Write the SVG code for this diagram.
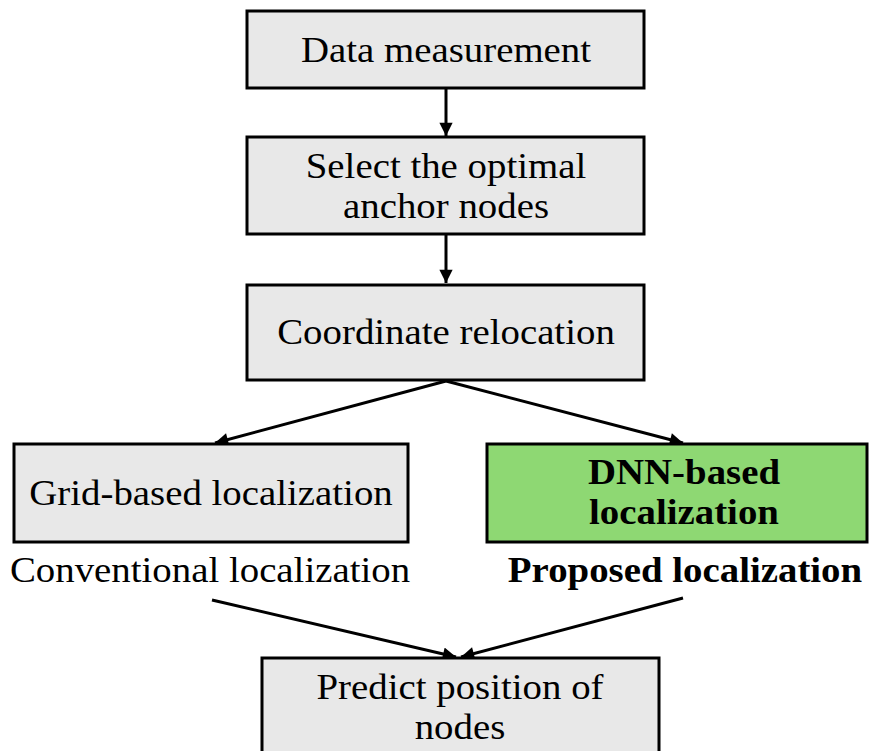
<svg xmlns="http://www.w3.org/2000/svg" width="870" height="751" viewBox="0 0 870 751">
<style>
.box{fill:#e8e8e8;stroke:#000;stroke-width:3}
.green{fill:#8ed873;stroke:#000;stroke-width:3}
.t{font-family:"Liberation Serif","Times New Roman",serif;font-size:35px;fill:#000;text-anchor:middle}
.b{font-weight:bold}
.c{stroke:#000;stroke-width:3;fill:none;marker-end:url(#ah)}
</style>
<defs>
<marker id="ah" viewBox="0 0 10 10" refX="10" refY="5" markerWidth="5" markerHeight="4.4" orient="auto" markerUnits="strokeWidth">
<path d="M0,0 L10,5 L0,10 z" fill="#000"/>
</marker>
</defs>
<rect width="870" height="751" fill="#fff"/>
<g id="connectors">
<line class="c" x1="446" y1="88" x2="446" y2="136"/>
<line class="c" x1="446" y1="234" x2="446" y2="283"/>
<line class="c" x1="446" y1="381" x2="215" y2="443"/>
<line class="c" x1="446" y1="381" x2="683" y2="443"/>
<line class="c" x1="212" y1="600" x2="456" y2="657"/>
<line class="c" x1="683" y1="598" x2="461" y2="657"/>
</g>
<g id="n1">
<rect class="box" x="247" y="11" width="397" height="77"/>
<text class="t" transform="translate(446,62) scale(1.11,1)">Data measurement</text>
</g>
<g id="n2">
<rect class="box" x="247" y="137" width="397" height="97"/>
<text class="t" transform="translate(446,178) scale(1.11,1)">Select the optimal</text>
<text class="t" transform="translate(446,218) scale(1.11,1)">anchor nodes</text>
</g>
<g id="n3">
<rect class="box" x="247" y="285" width="397" height="95"/>
<text class="t" transform="translate(446,344) scale(1.11,1)">Coordinate relocation</text>
</g>
<g id="n4">
<rect class="box" x="14" y="444" width="394" height="98"/>
<text class="t" transform="translate(211,505) scale(1.11,1)">Grid-based localization</text>
</g>
<g id="n5">
<rect class="green" x="487" y="444" width="380" height="98"/>
<text class="t b" transform="translate(684,484) scale(1.11,1)">DNN-based</text>
<text class="t b" transform="translate(684,524) scale(1.11,1)">localization</text>
</g>
<g id="labels">
<text class="t" transform="translate(210,582) scale(1.11,1)">Conventional localization</text>
<text class="t b" transform="translate(685,582) scale(1.11,1)">Proposed localization</text>
</g>
<g id="n6">
<rect class="box" x="262" y="658" width="397" height="120"/>
<text class="t" transform="translate(460,699) scale(1.11,1)">Predict position of</text>
<text class="t" transform="translate(460,739) scale(1.11,1)">nodes</text>
</g>
</svg>
